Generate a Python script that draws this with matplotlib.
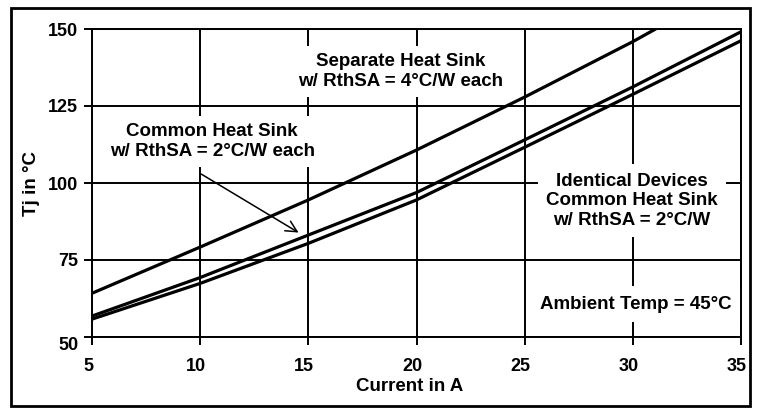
import numpy as np
import matplotlib.pyplot as plt
import matplotlib.transforms as mtransforms
from matplotlib.patches import Rectangle

plt.rcParams['font.family'] = ['Liberation Sans', 'DejaVu Sans']
plt.rcParams['font.weight'] = 'bold'

# Separate heat sink, 4 C/W each
sep_i = [5, 10, 15, 20, 25, 30, 31.05]
sep_t = [64.2, 79.2, 94.5, 110.7, 127.9, 145.9, 150]

# Common heat sink, 2 C/W each
com_i = [5, 10, 15, 20, 25, 30, 35]
com_t = [56.8, 69.3, 83.1, 96.9, 114.0, 131.2, 149.1]

# Identical devices, common heat sink 2 C/W
ide_i = [5, 10, 15, 20, 25, 30, 35]
ide_t = [55.8, 67.4, 80.4, 94.5, 111.6, 128.8, 146.2]

xticks = [5, 10, 15, 20, 25, 30, 35]
yticks = [50, 75, 100, 125, 150]

fig = plt.figure(figsize=(7.57, 4.08), dpi=100)
ax = fig.add_axes([92/757, 1 - 337/408, (741-92)/757, (337-29)/408])

ax.set_xlim(5, 35)
ax.set_ylim(50, 150)
ax.set_xticks(xticks)
ax.set_yticks(yticks)
ax.grid(True, color='black', linewidth=1.4)
for sp in ax.spines.values():
    sp.set_linewidth(1.4)
    sp.set_zorder(3.5)
ax.tick_params(direction='out', length=6, width=1.4, labelsize=13)
ax.tick_params(axis='x', pad=9)
ax.tick_params(axis='y', pad=4)

# small shifts of the tick labels as in the original
shift_x = mtransforms.ScaledTranslation(-0.04, 0, fig.dpi_scale_trans)
for lab in ax.get_xticklabels():
    lab.set_fontweight('bold')
    lab.set_transform(lab.get_transform() + shift_x)
for lab in ax.get_yticklabels():
    lab.set_fontweight('bold')
ylabs = ax.get_yticklabels()
ylabs[0].set_transform(ylabs[0].get_transform() +
                       mtransforms.ScaledTranslation(0, -0.06, fig.dpi_scale_trans))

ax.plot(sep_i, sep_t, color='black', linewidth=2.3)
ax.plot(com_i, com_t, color='black', linewidth=2.3)
ax.plot(ide_i, ide_t, color='black', linewidth=2.3)

fs = 13.5
box = dict(facecolor='white', edgecolor='none', pad=5)
ax.text(19.25, 136.2, 'Separate Heat Sink\nw/ RthSA = 4°C/W each', ha='center', va='center',
        fontsize=fs, fontweight='bold', bbox=box, linespacing=1.22)
ax.text(10.55, 113.5, 'Common Heat Sink\nw/ RthSA = 2°C/W each', ha='center', va='center',
        fontsize=fs, fontweight='bold', bbox=box, linespacing=1.22)
ax.text(29.95, 94.2, 'Identical Devices\nCommon Heat Sink\nw/ RthSA = 2°C/W', ha='center', va='center',
        fontsize=fs, fontweight='bold', bbox=dict(facecolor='white', edgecolor='none', pad=6),
        linespacing=1.22)
ax.text(30.15, 60.7, 'Ambient Temp = 45°C', ha='center', va='center',
        fontsize=fs, fontweight='bold', bbox=dict(facecolor='white', edgecolor='none', pad=7))

ax.annotate('', xy=(14.55, 83.9), xytext=(10.05, 102.9),
            arrowprops=dict(arrowstyle='->', color='black', linewidth=1.1,
                            mutation_scale=20, shrinkA=0, shrinkB=0))

ax.set_xlabel('Current in A', fontsize=13.5, fontweight='bold')
ax.xaxis.set_label_coords(0.49, -0.133)
ax.set_ylabel('Tj in °C', fontsize=13.5, fontweight='bold', labelpad=6)

fig.patches.append(Rectangle((11/757, 1 - 406/408), 739/757, 398/408,
                             transform=fig.transFigure, fill=False,
                             edgecolor='black', linewidth=2))

fig.savefig('out.png', dpi=100)
